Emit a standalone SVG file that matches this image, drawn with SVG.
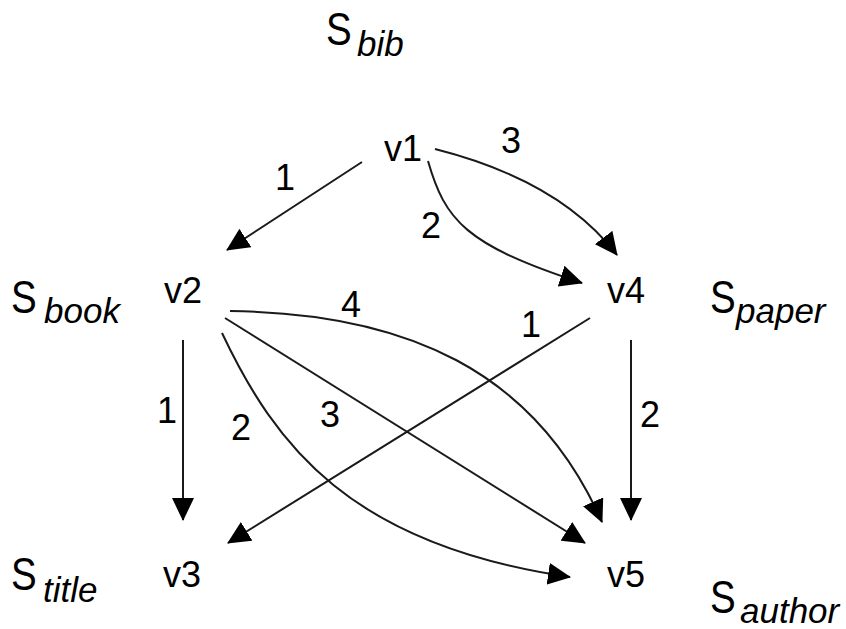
<svg xmlns="http://www.w3.org/2000/svg" width="846" height="629" viewBox="0 0 846 629">
<style>
.v{font-family:"Liberation Sans",Arial,sans-serif;font-size:36px;fill:#000}
.l{font-family:"Liberation Sans",Arial,sans-serif;font-size:36px;fill:#000;text-anchor:middle}
.S{font-family:"Liberation Sans",Arial,sans-serif;font-size:47px;fill:#000}
.sub{font-family:"Liberation Sans",Arial,sans-serif;font-size:35px;font-style:italic;fill:#000}
.e{fill:none;stroke:#1a1a1a;stroke-width:2;marker-end:url(#ah)}
</style>
<defs>
<marker id="ah" markerUnits="userSpaceOnUse" viewBox="0 0 23 22" markerWidth="23" markerHeight="22" refX="22" refY="11" orient="auto">
<path d="M0,0 L23,11 L0,22 z" fill="#000"/>
</marker>
</defs>
<rect width="846" height="629" fill="#fff"/>
<g id="sets">
<g id="S_bib"><text class="S" transform="translate(326,45) scale(0.82,1)">S</text><text class="sub" x="357" y="56">bib</text></g>
<g id="S_book"><text class="S" transform="translate(11,313) scale(0.82,1)">S</text><text class="sub" x="44" y="323">book</text></g>
<g id="S_paper"><text class="S" transform="translate(710,313) scale(0.82,1)">S</text><text class="sub" x="736" y="323">paper</text></g>
<g id="S_title"><text class="S" transform="translate(11,590) scale(0.82,1)">S</text><text class="sub" x="43" y="602">title</text></g>
<g id="S_author"><text class="S" transform="translate(710,613) scale(0.82,1)">S</text><text class="sub" x="740" y="623">author</text></g>
</g>
<g id="v1"><text class="v" x="384" y="161">v1</text></g>
<g id="v2"><text class="v" x="164" y="303">v2</text></g>
<g id="v3"><text class="v" x="163" y="587">v3</text></g>
<g id="v4"><text class="v" x="607" y="303">v4</text></g>
<g id="v5"><text class="v" x="607" y="587">v5</text></g>
<g id="connectors">
<path class="e" d="M362,162 L227,250"/>
<path class="e" d="M428,161 C445,220 465,245 582,283"/>
<path class="e" d="M435,149 C510,168 575,200 617,255"/>
<path class="e" d="M183,340 L183,520"/>
<path class="e" d="M631,340 L631,520"/>
<path class="e" d="M590,318 L228,543"/>
<path class="e" d="M225,318 L585,543"/>
<path class="e" d="M230,311 C405,313 535,370 602,522"/>
<path class="e" d="M222,333 C275,445 350,545 570,577"/>
</g>
<g id="labels">
<text class="l" x="285" y="190">1</text>
<text class="l" x="511" y="153">3</text>
<text class="l" x="431" y="238">2</text>
<text class="l" x="351" y="317">4</text>
<text class="l" x="531" y="337">1</text>
<text class="l" x="167" y="423">1</text>
<text class="l" x="241" y="440">2</text>
<text class="l" x="330" y="427">3</text>
<text class="l" x="650" y="427">2</text>
</g>
</svg>
